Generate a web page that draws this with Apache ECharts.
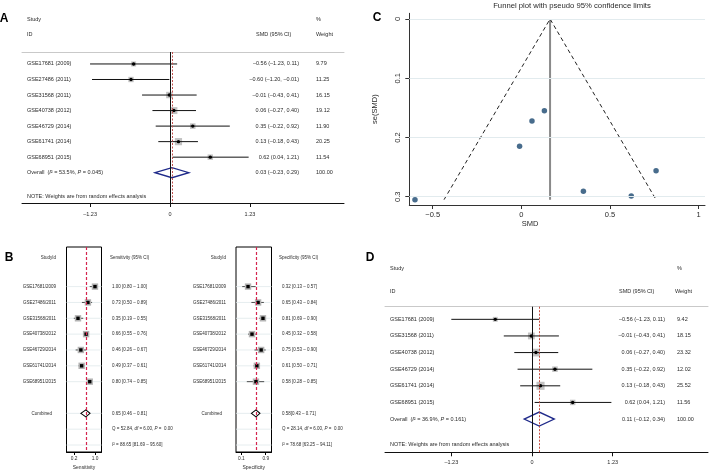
<!DOCTYPE html>
<html>
<head>
<meta charset="utf-8">
<script src="https://cdn.jsdelivr.net/npm/echarts@6/dist/echarts.min.js"></script>
<style>
  html, body { margin: 0; background: #fff; }
  #main { width: 709px; height: 472px; }
</style>
</head>
<body>
<div id="main"></div>
<script>
// ---- A: SMD forest plot, all studies
const studiesA = ["GSE17681 (2009)", "GSE27486 (2011)", "GSE31568 (2011)", "GSE40738 (2012)", "GSE46729 (2014)", "GSE61741 (2014)", "GSE68951 (2015)"]
const smdA = [-0.56, -0.60, -0.01, 0.06, 0.35, 0.13, 0.62]
const lowA = [-1.23, -1.20, -0.43, -0.27, -0.22, -0.18, 0.04]
const highA = [0.11, -0.01, 0.41, 0.40, 0.92, 0.43, 1.21]
const weightA = [9.79, 11.25, 16.15, 19.12, 11.90, 20.25, 11.54]
const overallA = [0.03, -0.23, 0.29]
const hetA = ["53.5%", "0.045"]

// ---- B: sensitivity / specificity forest plots
const studiesB = ["GSE17681/2009", "GSE27486/2011", "GSE31568/2011", "GSE40738/2012", "GSE46729/2014", "GSE61741/2014", "GSE68951/2015"]
const sens = [1.00, 0.73, 0.35, 0.66, 0.46, 0.49, 0.80]
const sensLow = [0.80, 0.50, 0.19, 0.55, 0.26, 0.37, 0.74]
const sensHigh = [1.00, 0.89, 0.55, 0.76, 0.67, 0.61, 0.85]
const sensPooled = [0.65, 0.46, 0.81]
const sensStats = ["Q = 52.84, df = 6.00, P =  0.00", "I² = 88.65 [81.69 – 95.60]"]
const spec = [0.32, 0.65, 0.81, 0.45, 0.75, 0.61, 0.58]
const specLow = [0.13, 0.43, 0.69, 0.32, 0.53, 0.50, 0.28]
const specHigh = [0.57, 0.84, 0.90, 0.58, 0.90, 0.71, 0.85]
const specPooled = [0.58, 0.43, 0.71]
const specStats = ["Q = 28.14, df = 6.00, P =  0.00", "I² = 78.68 [63.25 – 94.11]"]

// ---- C: funnel plot
const funnelSmd = [-0.60, -0.01, 0.06, 0.13, 0.35, 0.62, 0.76]
const funnelSe = [0.305, 0.215, 0.172, 0.155, 0.291, 0.299, 0.256]
const funnelCenter = 0.162
const funnelSeMax = 0.305
const funnelEdges = [-0.436, 0.76]

// ---- D: SMD forest plot without GSE27486
const studiesD = ["GSE17681 (2009)", "GSE31568 (2011)", "GSE40738 (2012)", "GSE46729 (2014)", "GSE61741 (2014)", "GSE68951 (2015)"]
const smdD = [-0.56, -0.01, 0.06, 0.35, 0.13, 0.62]
const lowD = [-1.23, -0.43, -0.27, -0.22, -0.18, 0.04]
const highD = [0.11, 0.41, 0.40, 0.92, 0.43, 1.21]
const weightD = [9.42, 18.15, 23.32, 12.02, 25.52, 11.56]
const overallD = [0.11, -0.12, 0.34]
const hetD = ["36.9%", "0.161"]

const smdTicks = [-1.23, 0, 1.23]

const FONT = "Liberation Sans, Arial, Helvetica, sans-serif"
const INK = "#2a2a2a"

const f2 = v => (v < 0 ? "–" : "") + Math.abs(v).toFixed(2)

function txt(x, y, s, size, align, extra) {
  return {
    type: "text", x: x, y: y, silent: true,
    style: Object.assign({
      text: s, fill: INK, fontSize: size, fontFamily: FONT,
      align: align, verticalAlign: "middle", textAlign: align, textVerticalAlign: "middle"
    }, extra || {})
  }
}

// one study row of an SMD forest plot
function smdRow(names, lay) {
  return function (params, api) {
    const row = api.value(0)
    const pe = api.coord([api.value(1), row])
    const xl = api.coord([api.value(2), row])[0]
    const xh = api.coord([api.value(3), row])[0]
    const w = api.value(4)
    const s = 1.6 * Math.sqrt(w)
    const ci = f2(api.value(1)) + " (" + f2(api.value(2)) + ", " + f2(api.value(3)) + ")"
    return {
      type: "group",
      children: [
        { type: "rect", shape: { x: pe[0] - s / 2, y: pe[1] - s / 2, width: s, height: s }, style: { fill: "#c2c2c2" } },
        { type: "line", shape: { x1: xl, y1: pe[1], x2: xh, y2: pe[1] }, style: { stroke: "#111", lineWidth: 1 } },
        { type: "circle", shape: { cx: pe[0], cy: pe[1], r: 1.7 }, style: { fill: "#000" } },
        txt(lay.labelX, pe[1], names[params.dataIndex], 5.5, "left"),
        txt(lay.ciX, pe[1], ci, 5.5, "right"),
        txt(lay.wX, pe[1], w.toFixed(2), 5.5, "left")
      ]
    }
  }
}

function smdOverall(het, lay) {
  return function (params, api) {
    const row = api.value(0)
    const pe = api.coord([api.value(1), row])
    const xl = api.coord([api.value(2), row])[0]
    const xh = api.coord([api.value(3), row])[0]
    const h = lay.dh
    const ci = f2(api.value(1)) + " (" + f2(api.value(2)) + ", " + f2(api.value(3)) + ")"
    const it = { fontStyle: "italic", fontSize: 5.5, fontFamily: FONT, fill: INK }
    return {
      type: "group",
      children: [
        {
          type: "polygon",
          shape: { points: [[xl, pe[1]], [pe[0], pe[1] - h], [xh, pe[1]], [pe[0], pe[1] + h]] },
          style: { fill: "none", stroke: "#1f2a8a", lineWidth: 1.3 }
        },
        txt(lay.labelX, pe[1], "Overall  ({it|I}² = " + het[0] + ", {it|P} = " + het[1] + ")", 5.5, "left", { rich: { it: it } }),
        txt(lay.ciX, pe[1], ci, 5.5, "right"),
        txt(lay.wX, pe[1], "100.00", 5.5, "left")
      ]
    }
  }
}

// one study row of the sensitivity / specificity plots
function accRow(names, lay) {
  return function (params, api) {
    const row = api.value(0)
    const pe = api.coord([api.value(1), row])
    const xl = api.coord([api.value(2), row])[0]
    const xh = api.coord([api.value(3), row])[0]
    const cs = params.coordSys
    const v = f2(api.value(1)) + " [" + f2(api.value(2)) + " – " + f2(api.value(3)) + "]"
    return {
      type: "group",
      children: [
        { type: "line", shape: { x1: cs.x, y1: pe[1], x2: cs.x + cs.width, y2: pe[1] }, style: { stroke: "#dfe8eb", lineWidth: 0.8 } },
        { type: "line", shape: { x1: xl, y1: pe[1], x2: xh, y2: pe[1] }, style: { stroke: "#222", lineWidth: 0.8 } },
        { type: "rect", shape: { x: pe[0] - 3.2, y: pe[1] - 3.2, width: 6.4, height: 6.4 }, style: { fill: "#b4b4b4" } },
        { type: "rect", shape: { x: pe[0] - 1.7, y: pe[1] - 1.7, width: 3.4, height: 3.4 }, style: { fill: "#000" } },
        txt(lay.labelX, pe[1], names[params.dataIndex], 4.5, "right"),
        txt(lay.valX, pe[1], v, 4.5, "left")
      ]
    }
  }
}

function accPooled(stats, lay) {
  return function (params, api) {
    const row = api.value(0)
    const pe = api.coord([api.value(1), row])
    const xl = api.coord([api.value(2), row])[0]
    const xh = api.coord([api.value(3), row])[0]
    const y1 = api.coord([0, row + 1])[1]
    const y2 = api.coord([0, row + 2])[1]
    const cs = params.coordSys
    const v = f2(api.value(1)) + lay.gap + "[" + f2(api.value(2)) + " – " + f2(api.value(3)) + "]"
    const it = { fontStyle: "italic", fontSize: 4.5, fontFamily: FONT, fill: INK }
    const grid = [pe[1], y1, y2].map(y => ({
      type: "line", shape: { x1: cs.x, y1: y, x2: cs.x + cs.width, y2: y }, style: { stroke: "#dfe8eb", lineWidth: 0.8 }
    }))
    return {
      type: "group",
      children: grid.concat([
        {
          type: "polygon",
          shape: { points: [[xl, pe[1]], [pe[0], pe[1] - 3.5], [xh, pe[1]], [pe[0], pe[1] + 3.5]] },
          style: { fill: "#fff", stroke: "#000", lineWidth: 1.1 }
        },
        txt(lay.labelX - 4, pe[1], "Combined", 4.5, "right"),
        txt(lay.valX, pe[1], v, 4.5, "left"),
        txt(lay.valX, y1, stats[0].replace("df", "{it|df}").replace("P =", "{it|P} ="), 4.5, "left", { rich: { it: it } }),
        txt(lay.valX, y2, stats[1].replace("I²", "{it|I}²"), 4.5, "left", { rich: { it: it } })
      ])
    }
  }
}

function smdXAxis(grid, min, max, margin) {
  return {
    gridIndex: grid, type: "value", min: min, max: max,
    axisLine: { onZero: false, lineStyle: { color: "#111", width: 1 } },
    axisTick: { customValues: smdTicks, length: 4, lineStyle: { color: "#111" } },
    axisLabel: {
      customValues: smdTicks, fontSize: 5.5, color: INK, fontFamily: FONT, margin: margin,
      formatter: v => (v === 0 ? "0" : f2(v))
    },
    splitLine: { show: false }
  }
}

function topLine(grid, min, max) {
  return {
    gridIndex: grid, type: "value", min: min, max: max, position: "top",
    axisLine: { onZero: false, lineStyle: { color: "#c9c9c9", width: 1 } },
    axisTick: { show: false }, axisLabel: { show: false }, splitLine: { show: false }
  }
}

function accXAxis(grid, min, max, ticks, name) {
  return {
    gridIndex: grid, type: "value", min: min, max: max,
    axisLine: { onZero: false, lineStyle: { color: "#000", width: 1 } },
    axisTick: { customValues: ticks, length: 3, lineStyle: { color: "#000" } },
    axisLabel: { customValues: ticks, fontSize: 4.8, color: INK, fontFamily: FONT, margin: 4.5, formatter: v => v.toFixed(1) },
    splitLine: { show: false },
    name: name, nameLocation: "middle", nameGap: 13,
    nameTextStyle: { fontSize: 5, color: INK, fontFamily: FONT }
  }
}

function hiddenY(grid, min, max) {
  return { gridIndex: grid, type: "value", inverse: true, min: min, max: max, show: false, axisLine: { onZero: false } }
}

function vline(x, color, type, width) {
  return { xAxis: x, lineStyle: { color: color, type: type, width: width } }
}

const layA = { labelX: 27, ciX: 299, wX: 316, dh: 5 }
const layD = { labelX: 390, ciX: 665, wX: 677, dh: 7 }
const laySens = { labelX: 56, valX: 112, gap: " " }
const laySpec = { labelX: 226, valX: 282, gap: "" }

const chart = echarts.init(document.getElementById("main"))

chart.setOption({
  animation: false,
  backgroundColor: "#fff",
  grid: [
    { left: 22, right: 365, top: 52, bottom: 269 },
    { left: 66.5, right: 607.5, top: 247, bottom: 20, show: true, borderColor: "#000", borderWidth: 1 },
    { left: 236, right: 437.5, top: 247, bottom: 20, show: true, borderColor: "#000", borderWidth: 1 },
    { left: 409.3, right: 4, top: 13.3, bottom: 267 },
    { left: 385, right: 1, top: 306.7, bottom: 19.7 }
  ],
  xAxis: [
    smdXAxis(0, -2.277, 2.677, 8),
    topLine(0, -2.277, 2.677),
    accXAxis(1, -0.09, 1.25, [0.2, 1.0], "Sensitivity"),
    accXAxis(2, -0.075, 1.09, [0.1, 0.9], "Specificity"),
    {
      gridIndex: 3, type: "value", min: -0.632, max: 1.036,
      axisLine: { onZero: false, lineStyle: { color: "#333" } },
      axisTick: { customValues: [-0.5, 0, 0.5, 1], length: 4, lineStyle: { color: "#333" } },
      axisLabel: {
        customValues: [-0.5, 0, 0.5, 1], fontSize: 7.5, color: INK, fontFamily: FONT, margin: 6,
        formatter: v => (v < 0 ? "−" : "") + Math.abs(v)
      },
      splitLine: { show: false }
    },
    smdXAxis(4, -2.241, 2.683, 7),
    topLine(4, -2.241, 2.683)
  ],
  yAxis: [
    hiddenY(0, -0.77, 8.95),
    hiddenY(1, -2.5, 10.44),
    hiddenY(2, -2.5, 10.44),
    {
      gridIndex: 3, type: "value", inverse: true, min: -0.0096, max: 0.314,
      axisLine: { onZero: false, lineStyle: { color: "#333" } },
      axisTick: { customValues: [0, 0.1, 0.2, 0.3], length: 4, lineStyle: { color: "#333" } },
      axisLabel: {
        customValues: [0, 0.1, 0.2, 0.3], rotate: 90, fontSize: 7.5, color: INK, fontFamily: FONT, margin: 7,
        formatter: v => String(v)
      },
      splitLine: { show: false },
      name: "se(SMD)", nameLocation: "middle", nameGap: 30, nameRotate: 90,
      nameTextStyle: { fontSize: 7.5, color: INK, fontFamily: FONT }
    },
    hiddenY(4, -0.76, 8.0)
  ],
  graphic: [
    txt(4, 19, "A", 12, "center", { fontWeight: "bold", fill: "#000" }),
    txt(9, 258, "B", 12, "center", { fontWeight: "bold", fill: "#000" }),
    txt(377, 18, "C", 12, "center", { fontWeight: "bold", fill: "#000" }),
    txt(370, 258, "D", 12, "center", { fontWeight: "bold", fill: "#000" }),

    txt(27, 19, "Study", 5.5, "left"),
    txt(27, 34, "ID", 5.5, "left"),
    txt(256, 34, "SMD (95% CI)", 5.5, "left"),
    txt(316, 19, "%", 5.5, "left"),
    txt(316, 34, "Weight", 5.5, "left"),
    txt(27, 196, "NOTE: Weights are from random effects analysis", 5.5, "left"),

    txt(56, 258, "StudyId", 4.5, "right"),
    txt(110, 258, "Sensitivity (95% CI)", 4.5, "left"),
    txt(226, 258, "StudyId", 4.5, "right"),
    txt(279, 258, "Specificity (95% CI)", 4.5, "left"),

    txt(572, 6, "Funnel plot with pseudo 95% confidence limits", 7.7, "center"),
    txt(530, 224, "SMD", 7.5, "center"),

    txt(390, 268, "Study", 5.5, "left"),
    txt(390, 291, "ID", 5.5, "left"),
    txt(619, 291, "SMD (95% CI)", 5.5, "left"),
    txt(677, 268, "%", 5.5, "left"),
    txt(675, 291, "Weight", 5.5, "left"),
    txt(390, 444, "NOTE: Weights are from random effects analysis", 5.5, "left")
  ],
  series: [
    // A
    {
      type: "custom", xAxisIndex: 0, yAxisIndex: 0, clip: false,
      data: studiesA.map((_, i) => [i, smdA[i], lowA[i], highA[i], weightA[i]]),
      renderItem: smdRow(studiesA, layA),
      markLine: {
        silent: true, symbol: "none", label: { show: false },
        data: [vline(0, "#111", "solid", 1), vline(overallA[0], "#c0504d", [2, 1.5], 1)]
      }
    },
    {
      type: "custom", xAxisIndex: 0, yAxisIndex: 0, clip: false,
      data: [[studiesA.length].concat(overallA)],
      renderItem: smdOverall(hetA, layA)
    },
    // B sensitivity
    {
      type: "custom", xAxisIndex: 2, yAxisIndex: 1, clip: false,
      data: studiesB.map((_, i) => [i, sens[i], sensLow[i], sensHigh[i]]),
      renderItem: accRow(studiesB, laySens),
      markLine: {
        silent: true, symbol: "none", label: { show: false },
        data: [vline(sensPooled[0], "#d4254f", [3, 2], 1.2)]
      }
    },
    {
      type: "custom", xAxisIndex: 2, yAxisIndex: 1, clip: false, z: 1,
      data: [[studiesB.length + 1].concat(sensPooled)],
      renderItem: accPooled(sensStats, laySens)
    },
    // B specificity
    {
      type: "custom", xAxisIndex: 3, yAxisIndex: 2, clip: false,
      data: studiesB.map((_, i) => [i, spec[i], specLow[i], specHigh[i]]),
      renderItem: accRow(studiesB, laySpec),
      markLine: {
        silent: true, symbol: "none", label: { show: false },
        data: [vline(specPooled[0], "#d4254f", [3, 2], 1.2)]
      }
    },
    {
      type: "custom", xAxisIndex: 3, yAxisIndex: 2, clip: false, z: 1,
      data: [[studiesB.length + 1].concat(specPooled)],
      renderItem: accPooled(specStats, laySpec)
    },
    // C funnel
    {
      type: "line", xAxisIndex: 4, yAxisIndex: 3, z: 1,
      data: [[funnelCenter, 0], [funnelCenter, funnelSeMax]],
      symbol: "none", lineStyle: { color: "#8a8a8a", width: 2 },
      markLine: {
        silent: true, symbol: "none", label: { show: false },
        lineStyle: { color: "#e2ebee", type: "solid", width: 1 },
        data: [0, 0.1, 0.2, 0.3].map(v => ({ yAxis: v }))
      }
    },
    {
      type: "line", xAxisIndex: 4, yAxisIndex: 3, z: 2,
      data: [[funnelEdges[0], funnelSeMax], [funnelCenter, 0], [funnelEdges[1], funnelSeMax]],
      symbol: "none", lineStyle: { color: "#222", width: 1, type: [4, 3] }
    },
    {
      type: "scatter", xAxisIndex: 4, yAxisIndex: 3, z: 3,
      data: funnelSmd.map((x, i) => [x, funnelSe[i]]),
      symbolSize: 5.5, itemStyle: { color: "#1a476f" }
    },
    // D
    {
      type: "custom", xAxisIndex: 5, yAxisIndex: 4, clip: false,
      data: studiesD.map((_, i) => [i, smdD[i], lowD[i], highD[i], weightD[i]]),
      renderItem: smdRow(studiesD, layD),
      markLine: {
        silent: true, symbol: "none", label: { show: false },
        data: [vline(0, "#111", "solid", 1), vline(overallD[0], "#c0392b", [2, 1.5], 0.9)]
      }
    },
    {
      type: "custom", xAxisIndex: 5, yAxisIndex: 4, clip: false,
      data: [[studiesD.length].concat(overallD)],
      renderItem: smdOverall(hetD, layD)
    }
  ]
})
</script>
</body>
</html>
